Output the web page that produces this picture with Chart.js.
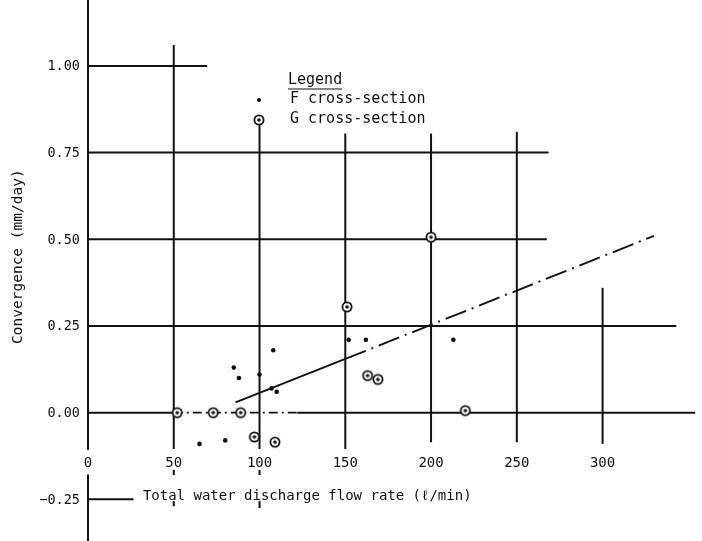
<!DOCTYPE html>
<html>
<head>
<meta charset="utf-8">
<script src="https://cdn.jsdelivr.net/npm/chart.js@4/dist/chart.umd.min.js"></script>
<style>
  html, body { margin: 0; padding: 0; background: #fff; }
  #wrap { width: 702px; height: 541px; }
</style>
</head>
<body>
<div id="wrap"><canvas id="c" width="702" height="541"></canvas></div>
<script>
// F cross-section measurements (flow rate l/min, convergence mm/day)
const fX = [65, 80, 85, 88, 100, 107, 108, 110, 152, 162, 213];
const fY = [-0.09, -0.08, 0.13, 0.10, 0.11, 0.07, 0.18, 0.06, 0.21, 0.21, 0.21];

// G cross-section measurements
const gX = [52, 73, 89, 97, 109, 151, 163, 169, 200, 220];
const gY = [0.00, 0.00, 0.00, -0.07, -0.085, 0.305, 0.107, 0.096, 0.506, 0.006];

// Trend for F: solid part then dash-dot extension
const fFitX = [86, 150, 330];
const fFitY = [0.03, 0.155, 0.51];

// Trend for G along zero
const gFitX = [50, 122];
const gFitY = [0, 0];

// Axis ticks
const xTickValues = [0, 50, 100, 150, 200, 250, 300];
const yTickValues = [-0.25, 0, 0.25, 0.5, 0.75, 1.0];

// Grid segments in data units: horizontal [y, xFrom, xTo], vertical [x, yFrom, yTo]
const hGrid = [
  [1.00, 0, 69.5], [0.75, 0, 268.5], [0.50, 0, 267.5], [0.25, 0, 343],
  [0.00, 0, 50], [0.00, 122, 354], [-0.25, 0, 26.5]
];
const vGrid = [
  [50, -0.105, 1.06], [100, -0.105, 0.83], [150, -0.105, 0.805],
  [200, -0.085, 0.805], [250, -0.085, 0.81], [300, -0.09, 0.36],
  [0, -0.107, 1.2], [0, -0.178, -0.4],
  [50, -0.165, -0.18], [50, -0.255, -0.27], [100, -0.165, -0.18], [100, -0.255, -0.275]
];

const MONO = '"DejaVu Sans Mono", "Liberation Mono", monospace';
const INK = '#111';

// circled-dot marker for G cross-section
function circledDot() {
  const cv = document.createElement('canvas');
  cv.width = 14; cv.height = 14;
  const c = cv.getContext('2d');
  c.beginPath(); c.arc(7, 7, 4.6, 0, Math.PI * 2);
  c.fillStyle = '#fff'; c.fill();
  c.lineWidth = 1.8; c.strokeStyle = INK; c.stroke();
  c.beginPath(); c.arc(7, 7, 1.8, 0, Math.PI * 2);
  c.fillStyle = INK; c.fill();
  return cv;
}
const gMarker = circledDot();

const pts = (xs, ys) => xs.map((x, i) => ({ x, y: ys[i] }));

const paperPlugin = {
  id: 'paper',
  beforeDatasetsDraw(chart) {
    const { ctx } = chart;
    const xs = chart.scales.x, ys = chart.scales.y;
    const px = v => xs.getPixelForValue(v), py = v => ys.getPixelForValue(v);
    ctx.save();
    ctx.strokeStyle = INK;
    ctx.lineWidth = 2;
    ctx.lineCap = 'butt';
    hGrid.forEach(([y, a, b]) => {
      ctx.beginPath(); ctx.moveTo(px(a), py(y)); ctx.lineTo(px(b), py(y)); ctx.stroke();
    });
    vGrid.forEach(([x, a, b]) => {
      ctx.beginPath(); ctx.moveTo(px(x), py(a)); ctx.lineTo(px(x), py(b)); ctx.stroke();
    });

    ctx.fillStyle = INK;
    ctx.textBaseline = 'middle';

    // y tick labels, right-aligned beside the axis line
    ctx.font = '13.5px ' + MONO;
    ctx.textAlign = 'right';
    yTickValues.forEach(v => ctx.fillText(v.toFixed(2).replace('-', '\u2212'), px(0) - 8, py(v) + 1));

    // x tick labels sit between the zero line and the title
    ctx.font = '14px ' + MONO;
    ctx.textAlign = 'center';
    xTickValues.forEach(v => ctx.fillText(String(v), px(v), py(-0.147)));

    // x axis title
    ctx.textAlign = 'left';
    ctx.fillText('Total water discharge flow rate (\u2113/min)', px(32), py(-0.24));

    // y axis title
    ctx.save();
    ctx.translate(18, py(0.45));
    ctx.rotate(-Math.PI / 2);
    ctx.textAlign = 'center';
    ctx.font = '14.5px ' + MONO;
    ctx.fillText('Convergence (mm/day)', 0, 0);
    ctx.restore();

    // legend
    const lx = 288;
    ctx.font = '15px ' + MONO;
    ctx.textAlign = 'left';
    ctx.fillText('Legend', lx, 80);
    const w = ctx.measureText('Legend').width;
    ctx.lineWidth = 1.2;
    ctx.beginPath(); ctx.moveTo(lx, 89); ctx.lineTo(lx + w, 89); ctx.stroke();
    ctx.fillText(chart.data.datasets[0].label, lx + 2, 99);
    ctx.fillText(chart.data.datasets[1].label, lx + 2, 119);
    ctx.beginPath(); ctx.arc(259, 100, 2.1, 0, Math.PI * 2); ctx.fill();
    ctx.drawImage(gMarker, 259 - 7, 120 - 7);
    ctx.restore();
  }
};

new Chart(document.getElementById('c'), {
  type: 'scatter',
  data: {
    datasets: [
      {
        label: 'F cross-section',
        data: pts(fX, fY),
        pointRadius: 2.3, pointHoverRadius: 2.3,
        backgroundColor: INK, borderColor: INK, borderWidth: 0
      },
      {
        label: 'G cross-section',
        data: pts(gX, gY),
        pointStyle: gMarker, pointRadius: 7
      },
      {
        type: 'line',
        label: 'F trend',
        data: pts(fFitX, fFitY),
        borderColor: INK, borderWidth: 1.9, pointRadius: 0, fill: false,
        segment: { borderDash: c => c.p0DataIndex === 0 ? [] : [22, 6, 2, 6] },
        order: 5
      },
      {
        type: 'line',
        label: 'G trend',
        data: pts(gFitX, gFitY),
        borderColor: INK, borderWidth: 1.8, pointRadius: 0, fill: false,
        borderDash: [9, 4, 2, 4],
        order: 5
      }
    ]
  },
  options: {
    responsive: false,
    animation: false,
    clip: false,
    layout: { padding: { top: 5, right: 0, bottom: 0, left: 88 } },
    plugins: { legend: { display: false }, tooltip: { enabled: false } },
    scales: {
      x: { type: 'linear', min: 0, max: 353.3, display: false },
      y: { type: 'linear', min: -0.347, max: 1.167, display: false }
    }
  },
  plugins: [paperPlugin]
});
</script>
</body>
</html>
